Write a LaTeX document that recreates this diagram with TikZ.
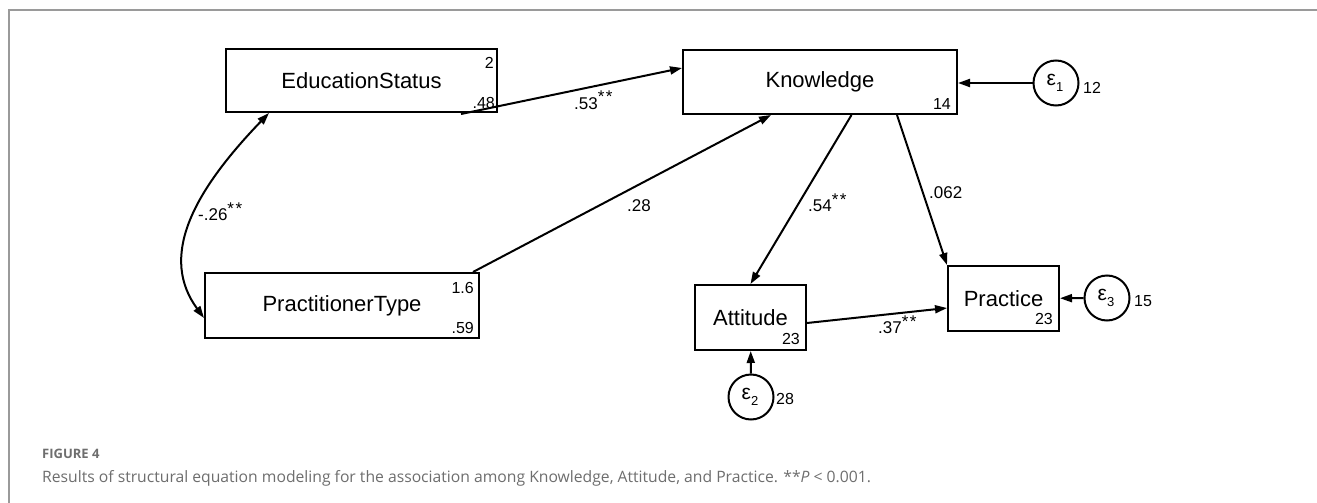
\documentclass[tikz,border=0pt]{standalone}
\usepackage{fontspec}
\setmainfont{Liberation Sans}
\newfontfamily\capfont{Open Sans}
\usetikzlibrary{arrows.meta,calc}
\definecolor{framegray}{HTML}{9A9A9A}
\definecolor{capgray}{HTML}{6E6E6E}
\tikzset{
  varbox/.style={draw, line width=2pt, rectangle, inner sep=0pt, font=\fontsize{22}{22}\selectfont},
  errc/.style={draw, line width=2pt, circle, minimum size=45pt, inner sep=0pt},
  num/.style={inner sep=0pt, font=\fontsize{16}{16}\selectfont},
  elab/.style={inner sep=0pt, font=\fontsize{17}{17}\selectfont},
  conn/.style={line width=2pt, -{Triangle[length=12pt,width=8pt]}},
  dconn/.style={line width=2pt, {Triangle[length=12pt,width=8pt]}-{Triangle[length=12pt,width=8pt]}},
}
\newcommand{\sigmark}{\raisebox{6pt}{\fontsize{17}{17}\selectfont *\kern1.5pt*}}
\newcommand{\epsl}[1]{\kern-2pt{\fontsize{21}{21}\selectfont ε}\raisebox{-6pt}{\fontsize{13}{13}\selectfont #1}}
\begin{document}
\begin{tikzpicture}[x=1pt,y=-1pt]
  \useasboundingbox (0,0) rectangle (1317,503);
  \fill[white] (0,0) rectangle (1317,503);
  % frame
  \draw[framegray, line width=2.5pt] (9,503) -- (9,10) -- (1317,10);

  % variables
  \node[varbox, minimum width=271pt, minimum height=63pt] (edu) at (361.5,80.5) {EducationStatus};
  \node[varbox, minimum width=274pt, minimum height=64pt] (know) at (820,82) {Knowledge};
  \node[varbox, minimum width=274pt, minimum height=65pt] (prac) at (342,305.5) {PractitionerType};
  \node[varbox, minimum width=111pt, minimum height=65pt] (att) at (750.5,317.5) {Attitude};
  \node[varbox, minimum width=111pt, minimum height=65pt] (pra) at (1003.5,298.5) {Practice};

  % error terms
  \node[errc] (e1) at (1056,83) {\epsl{1}};
  \node[errc] (e2) at (751,397) {\epsl{2}};
  \node[errc] (e3) at (1107,298) {\epsl{3}};

  % corner numbers
  \node[num, anchor=base east] (eduA) at (494,68) {2};
  \node[num, anchor=base east] (eduB) at (495,108) {.48};
  \node[num, anchor=base east] (knowA) at (951,109) {14};
  \node[num, anchor=base east] (pracA) at (474,293) {1.6};
  \node[num, anchor=base east] (pracB) at (474,333) {.59};
  \node[num, anchor=base east] (attA) at (800,344) {23};
  \node[num, anchor=base east] (praA) at (1053,324) {23};
  \node[num, anchor=base west] (e1v) at (1083,93) {12};
  \node[num, anchor=base west] (e2v) at (776,404) {28};
  \node[num, anchor=base west] (e3v) at (1134,306) {15};

  % paths
  \draw[conn] ($(edu.south east)+(-37,1)$) -- ($(know.north west)+(0,19)$);
  \draw[conn] ($(prac.north east)+(-7,0)$) -- ($(know.south)+(-49,0)$);
  \draw[conn] ($(know.south)+(31.5,0)$) -- (att.north);
  \draw[conn] ($(know.south)+(77,0)$) -- (pra.north west);
  \draw[conn] ($(att.east)+(0,5.5)$) -- ($(pra.west)+(0,9.5)$);
  \draw[conn] (e1) -- (know.east |- e1);
  \draw[conn] (e2) -- (att);
  \draw[conn] (e3) -- (pra);
  \draw[dconn] ($(edu.south west)+(44,0)$) .. controls (190,195) and (160,258) .. ($(prac.west)+(0,12.5)$);

  % path labels
  \node[elab, anchor=base west] (l53) at (574,109) {.53\sigmark};
  \node[elab, anchor=base west] (l28) at (627,211) {.28};
  \node[elab, anchor=base west] (l26) at (198,220) {-.26\sigmark};
  \node[elab, anchor=base west] (l54) at (808,211) {.54\sigmark};
  \node[elab, anchor=base west] (l062) at (929,198) {.062};
  \node[elab, anchor=base west] (l37) at (878,333) {.37\sigmark};

  % caption
  \node[anchor=base west, inner sep=0pt, text=capgray, font=\capfont\bfseries\fontsize{13}{13}\selectfont] (figlab) at (42,458) {FIGURE 4};
  \node[anchor=base west, inner sep=0pt, text=capgray, font=\capfont\fontsize{15.7}{16}\selectfont] (cap) at (42,482.5) {Results of structural equation modeling for the association among Knowledge, Attitude, and Practice. **\textit{P} < 0.001.};
\end{tikzpicture}
\end{document}
